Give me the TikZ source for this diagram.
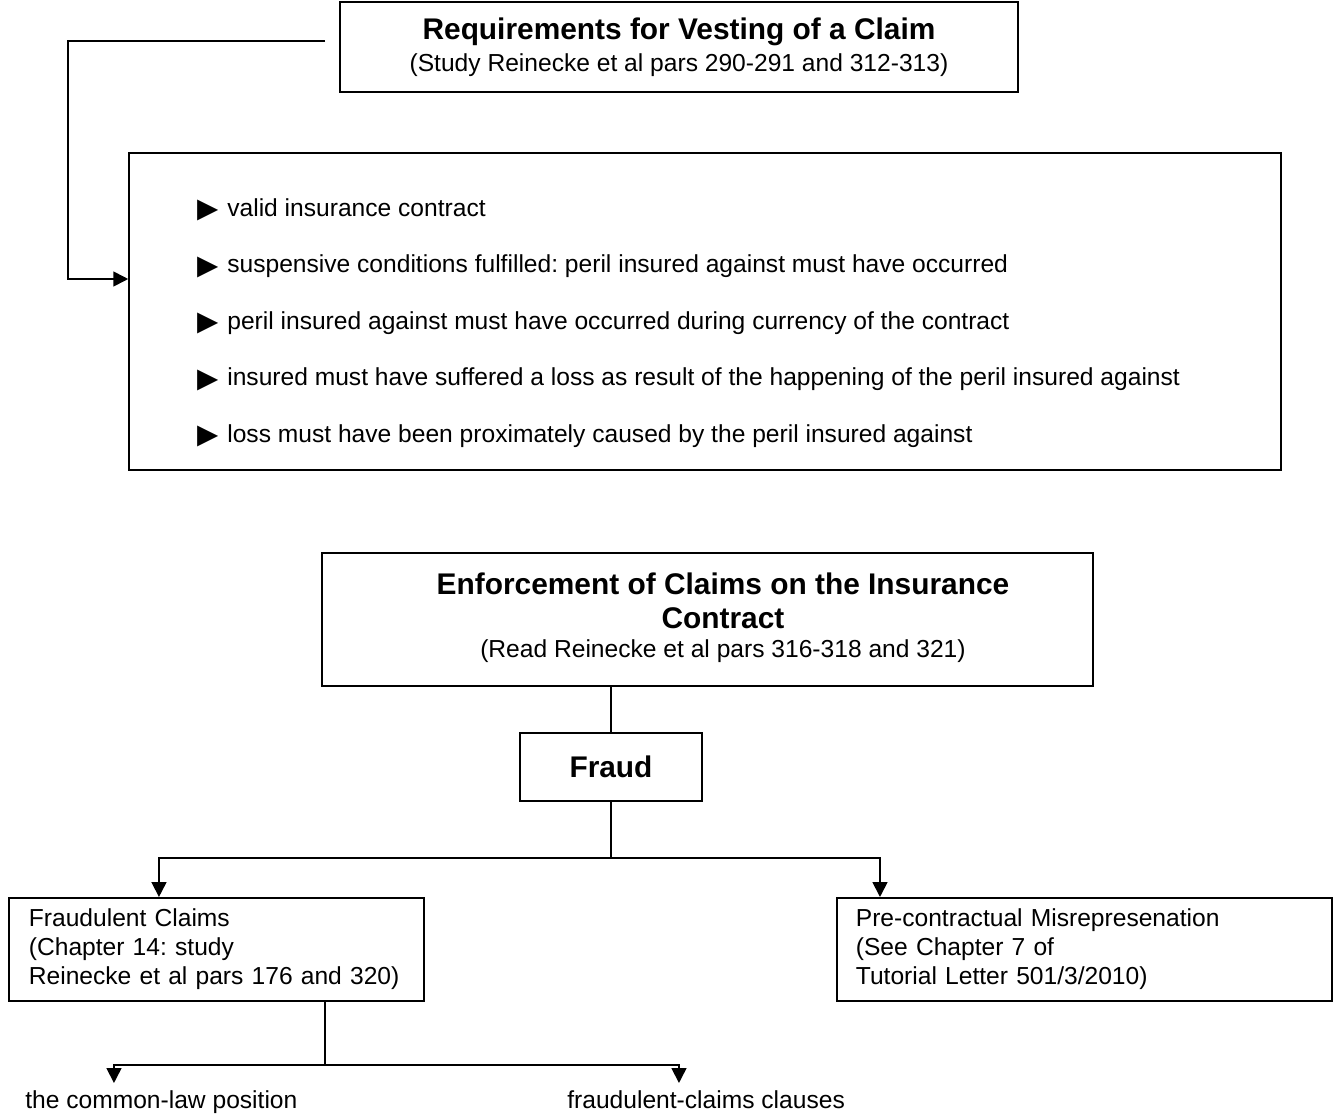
\documentclass[tikz,border=0pt]{standalone}
\usepackage{fontspec}
\setmainfont{Liberation Sans}
\usetikzlibrary{arrows.meta}
\frenchspacing

\newcommand{\bodyfont}{\fontsize{14}{17}\selectfont}
\newcommand{\headfont}{\fontsize{17}{20}\selectfont\bfseries}
\newcommand{\pointer}{\makebox[0.74cm][l]{\fontsize{20}{20}\selectfont\raisebox{-2.5pt}{►}}}

\tikzset{
  box/.style={draw, line width=1pt, inner sep=0pt},
  subbox/.style={draw, line width=1pt, anchor=north west, align=left,
    inner xsep=0.4cm, minimum height=2.06cm, font=\fontsize{14}{16.4}\selectfont},
  item/.style={anchor=west, inner sep=0pt},
  leaf/.style={anchor=north west, inner xsep=0pt, inner ysep=0.14cm},
  link/.style={line width=1pt},
  arr/.style={-{Triangle[length=8.5pt,width=8.5pt]}, line width=1pt},
}

\begin{document}
\begin{tikzpicture}[x=0.02cm, y=-0.02cm, font=\bodyfont]
  \useasboundingbox (0,0) rectangle (1333,1118);

  % vesting of a claim
  \node[box, minimum width=13.56cm, minimum height=1.8cm, align=center] (vest) at (679,47)
    {{\headfont Requirements for Vesting of a Claim}\\[1pt](Study Reinecke et al pars 290-291 and 312-313)};
  \node[box, minimum width=23.04cm, minimum height=6.34cm] (reqs) at (705,311.5) {};
  \foreach \txt [count=\i] in {valid insurance contract,
      suspensive conditions fulfilled: peril insured against must have occurred,
      peril insured against must have occurred during currency of the contract,
      insured must have suffered a loss as result of the happening of the peril insured against,
      loss must have been proximately caused by the peril insured against}
    \node[item] (req\i) at (190,{210+(\i-1)*56.5}) {\pointer\txt};
  \coordinate (vestout) at ([shift={(-14,-6)}]vest.west);
  \draw[arr] (vestout) -- ++(-257,0) |- ([yshift=0.65cm]reqs.west);

  % enforcement and fraud
  \node[box, minimum width=15.42cm, minimum height=2.66cm] (enforce) at (707.5,619.5) {};
  \node[align=center] (enforcetxt) at (723,618)
    {{\headfont Enforcement of Claims on the Insurance}\\[2pt]{\headfont Contract}\\(Read Reinecke et al pars 316-318 and 321)};
  \node[box, minimum width=3.64cm, minimum height=1.36cm, font=\headfont] (fraud) at (611,767) {Fraud};
  \draw[link] (enforce.south -| fraud.north) -- (fraud.north);
  \coordinate (split) at ([yshift=-1.12cm]fraud.south);
  \draw[link] (fraud.south) -- (split);

  \node[subbox, text width=7.5cm] (claims) at (8,897)
    {Fraudulent Claims\\(Chapter 14: study\\Reinecke et al pars 176 and 320)};
  \node[subbox, text width=9.14cm, inner xsep=0.38cm] (misrep) at (836,897)
    {Pre-contractual Misrepresenation\\(See Chapter 7 of\\Tutorial Letter 501/3/2010)};
  \draw[arr] (split) -| ([xshift=3.02cm]claims.north west);
  \draw[arr] (split) -| ([xshift=0.88cm]misrep.north west);

  % fraudulent claims
  \coordinate (claimsout) at ([xshift=6.34cm]claims.south west);
  \coordinate (split2) at ([yshift=-1.26cm]claimsout);
  \node[leaf] (lawpos) at (25,1083) {the common-law position};
  \node[leaf] (clauses) at (567,1083) {fraudulent-claims clauses};
  \draw[link] (claimsout) -- (split2);
  \draw[arr] (split2) -| ([xshift=1.78cm]lawpos.north west);
  \draw[arr] (split2) -| ([xshift=2.24cm]clauses.north west);
\end{tikzpicture}
\end{document}
